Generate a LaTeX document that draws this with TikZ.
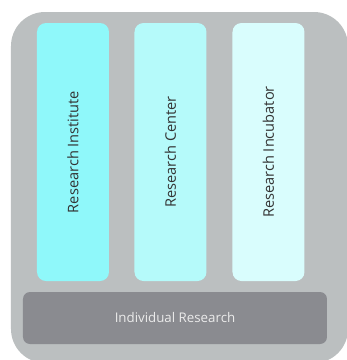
\documentclass[tikz,border=0pt]{standalone}
\usepackage{fontspec}
\setmainfont{Open Sans}
\definecolor{outergray}{HTML}{BBBFC0}
\definecolor{barGray}{HTML}{8A8B90}
\definecolor{colA}{HTML}{8FF8FA}
\definecolor{colB}{HTML}{B5FAFA}
\definecolor{colC}{HTML}{D9FDFD}
\definecolor{txtdark}{HTML}{333333}
\tikzset{
  colbox/.style={draw=none, rounded corners=9pt, minimum width=72pt, minimum height=258pt, inner sep=0pt},
  coltext/.style={font=\fontsize{14.6}{16}\selectfont, text=txtdark, rotate=90},
}
\begin{document}
\begin{tikzpicture}[x=1pt,y=-1pt]
\useasboundingbox (0,0) rectangle (347,360);
\clip (0,0) rectangle (347,360);
\fill[white] (0,0) rectangle (347,360);
\fill[outergray, rounded corners=34pt] (11,12) rectangle (348,363);
\node[colbox, fill=colA] (inst) at (73,152) {};
\node[colbox, fill=colB] (cent) at (170.5,152) {};
\node[colbox, fill=colC] (incu) at (268.5,152) {};
\node[coltext] (instt) at (inst.center) {Research Institute};
\node[coltext] (centt) at (cent.center) {Research Center};
\node[coltext] (incut) at (incu.center) {Research Incubator};
\node[draw=none, fill=barGray, rounded corners=7pt, minimum width=304pt, minimum height=52pt, inner sep=0pt] (indiv) at (175,318) {};
\node[font=\fontsize{13.3}{15}\selectfont, text=white!92!black] (indivt) at (indiv.center) {Individual Research};
\end{tikzpicture}
\end{document}
